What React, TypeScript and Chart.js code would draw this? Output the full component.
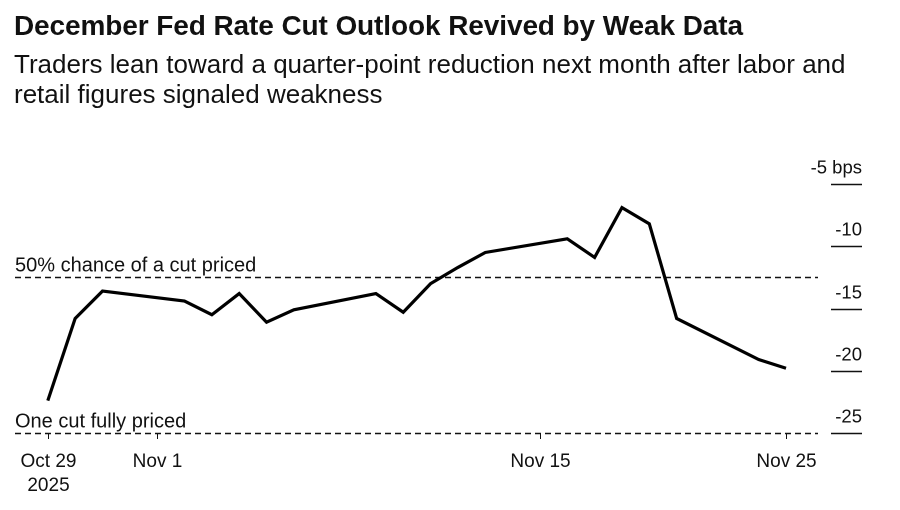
import React, { useEffect, useRef } from 'react';
import { Chart, registerables } from 'chart.js';

Chart.register(...registerables);

// Trading days, counted as calendar-day offsets from Oct 29 2025
const dayIndex = [0, 1, 2, 5, 6, 7, 8, 9, 12, 13, 14, 15, 16, 19, 20, 21, 22, 23, 26, 27];
// Basis points of December easing priced
const pricedBps = [-22.4, -15.8, -13.6, -14.4, -15.5, -13.8, -16.1, -15.1, -13.8, -15.3, -13.0, -11.7, -10.5, -9.4, -10.9, -6.9, -8.2, -15.8, -19.1, -19.8];

const xTickDays = [0, 4, 18, 27];
const xTickLabels = [['Oct 29', '2025'], ['Nov 1'], ['Nov 15'], ['Nov 25']];
const yTickValues = [-5, -10, -15, -20, -25];
const yTickLabels = ['-5 bps', '-10', '-15', '-20', '-25'];
const refLevels = [-12.5, -25];
const refLabels = ['50% chance of a cut priced', 'One cut fully priced'];

const TITLE = 'December Fed Rate Cut Outlook Revived by Weak Data';
const SUBTITLE_1 = 'Traders lean toward a quarter-point reduction next month after labor and';
const SUBTITLE_2 = 'retail figures signaled weakness';

const FONT = '"Liberation Sans", Arial, Helvetica, sans-serif';

const decorPlugin = {
  id: 'decor',
  beforeDatasetsDraw(chart: any) {
    const { ctx, chartArea, scales } = chart;
    const y = scales.y;
    ctx.save();
    refLevels.forEach((lvl, i) => {
      const py = Math.round(y.getPixelForValue(lvl)) + 0.5;
      ctx.beginPath();
      ctx.setLineDash([6, 4]);
      ctx.lineWidth = 1.6;
      ctx.strokeStyle = '#111';
      ctx.moveTo(chartArea.left, py);
      ctx.lineTo(chartArea.right, py);
      ctx.stroke();
      ctx.setLineDash([]);
      ctx.fillStyle = '#111';
      ctx.font = `20px ${FONT}`;
      ctx.textAlign = 'left';
      ctx.textBaseline = 'alphabetic';
      ctx.fillText(refLabels[i], chartArea.left, py - 6);
    });
    ctx.restore();
  },
  afterDraw(chart: any) {
    const { ctx, chartArea, scales } = chart;
    const x = scales.x;
    const y = scales.y;
    ctx.save();
    ctx.fillStyle = '#111';
    ctx.strokeStyle = '#111';
    ctx.font = `18.5px ${FONT}`;
    // right axis
    yTickValues.forEach((v, i) => {
      const py = Math.round(y.getPixelForValue(v)) + 0.5;
      ctx.beginPath();
      ctx.lineWidth = 1.4;
      ctx.moveTo(831, py);
      ctx.lineTo(862, py);
      ctx.stroke();
      ctx.textAlign = 'right';
      ctx.textBaseline = 'alphabetic';
      ctx.fillText(yTickLabels[i], 862, py - 11);
    });
    // bottom axis
    const by = chartArea.bottom;
    ctx.font = `19px ${FONT}`;
    xTickDays.forEach((d, i) => {
      const px = Math.round(x.getPixelForValue(d)) + 0.5;
      ctx.beginPath();
      ctx.lineWidth = 1;
      ctx.moveTo(px, by);
      ctx.lineTo(px, by + 6);
      ctx.stroke();
      ctx.textAlign = 'center';
      xTickLabels[i].forEach((line, j) => {
        ctx.fillText(line, px, by + 34 + j * 24);
      });
    });
    ctx.restore();
  },
};

export default function App() {
  const ref = useRef<HTMLCanvasElement | null>(null);

  useEffect(() => {
    if (!ref.current) return;
    const chart = new Chart(ref.current, {
      type: 'line',
      data: {
        datasets: [
          {
            data: dayIndex.map((d, i) => ({ x: d, y: pricedBps[i] })),
            borderColor: '#000',
            borderWidth: 3.2,
            pointRadius: 0,
            tension: 0,
            fill: false,
          },
        ],
      },
      options: {
        animation: false,
        responsive: false,
        devicePixelRatio: 2,
        layout: { padding: { left: 15, right: 82, top: 184, bottom: 77 } },
        plugins: {
          legend: { display: false },
          tooltip: { enabled: false },
          title: { display: false },
        },
        scales: {
          x: { type: 'linear', min: -1.2, max: 28.17, display: false },
          y: { type: 'linear', min: -25, max: -5, display: false },
        },
      },
      plugins: [decorPlugin],
    });
    return () => chart.destroy();
  }, []);

  return (
    <div style={{ position: 'absolute', left: 0, top: 0, width: 900, height: 510, background: '#fff', overflow: 'hidden' }}>
      <canvas ref={ref} width={900} height={510} style={{ position: 'absolute', left: 0, top: 0, width: 900, height: 510 }} />
      <div
        style={{
          position: 'absolute', left: 14, top: 10, fontFamily: FONT, fontWeight: 700,
          fontSize: 28, lineHeight: '32px', color: '#111', whiteSpace: 'nowrap', letterSpacing: -0.1,
        }}
      >
        {TITLE}
      </div>
      <div
        style={{
          position: 'absolute', left: 14, top: 49, fontFamily: FONT, fontWeight: 400,
          fontSize: 26, lineHeight: '30px', color: '#111', whiteSpace: 'nowrap',
        }}
      >
        <div>{SUBTITLE_1}</div>
        <div>{SUBTITLE_2}</div>
      </div>
    </div>
  );
}
